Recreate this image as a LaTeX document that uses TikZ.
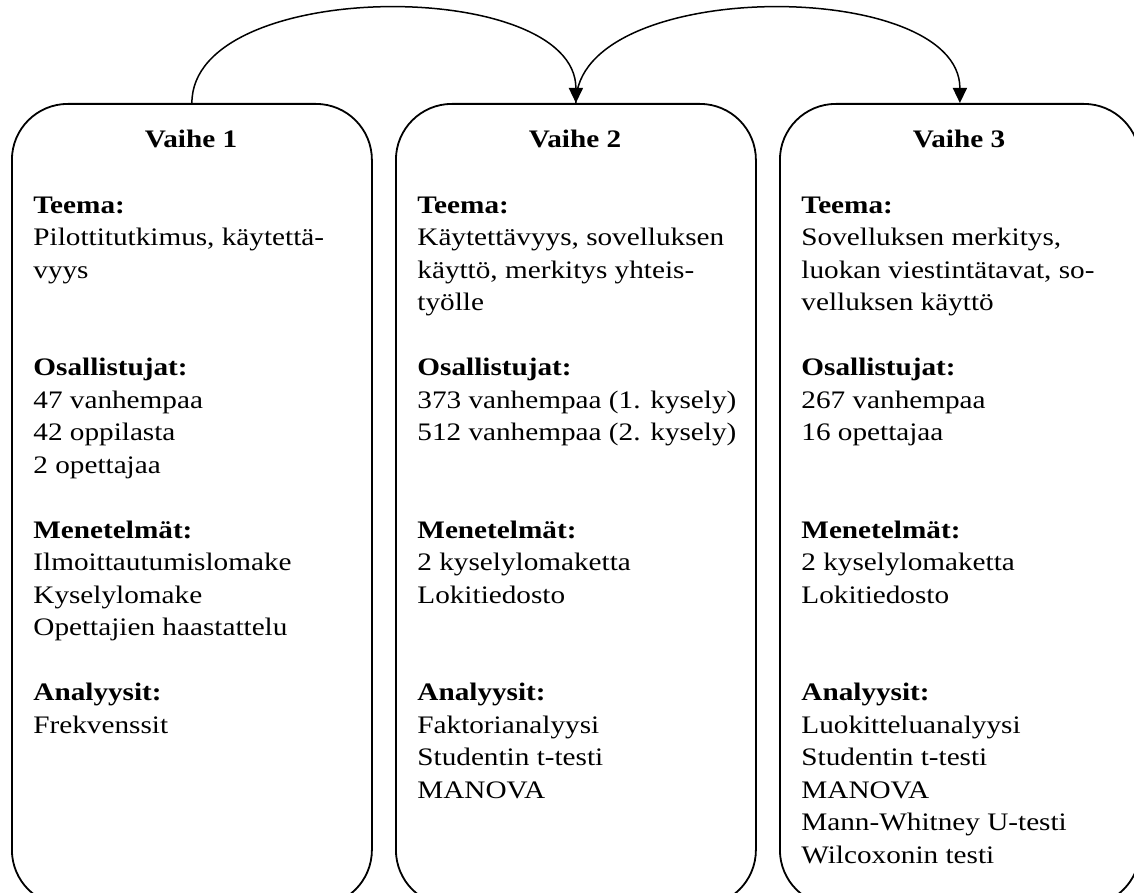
\documentclass[tikz,border=0pt]{standalone}
\usepackage{fontspec}
\setmainfont[FakeStretch=1.16]{Liberation Serif}
\usetikzlibrary{arrows.meta}
\tikzset{
  phase/.style={draw, line width=0.9pt, rounded corners=28pt, minimum width=180pt,
    minimum height=401pt, inner sep=0pt, anchor=north west},
  ttl/.style={anchor=base, inner sep=0pt, font=\bfseries\fontsize{12.6}{16.25}\selectfont},
  body/.style={anchor=north west, inner sep=0pt, align=left,
    font=\fontsize{12.6}{16.25}\selectfont},
  link/.style={line width=0.75pt, -{Triangle[length=7.5pt,width=7pt]}},
}
\newcommand{\fs}{\rule{0pt}{9.5pt}}
\begin{document}
\begin{tikzpicture}[x=0.5pt,y=-0.5pt]
\useasboundingbox (0,0) rectangle (1134,893);
\clip (0,0) rectangle (1134,893);

\node[phase] (b1) at (11,103) {};
\node[phase] (b2) at (395,103) {};
\node[phase] (b3) at (779,103) {};

\node[ttl] (t1) at (191,148) {Vaihe 1};
\node[ttl] (t2) at (575,148) {Vaihe 2};
\node[ttl] (t3) at (959,148) {Vaihe 3};

\node[body] (c1) at (33,194) {\fs\textbf{Teema:}\\
Pilottitutkimus, käytettä-\\
vyys\\[32.5pt]
\textbf{Osallistujat:}\\
47 vanhempaa\\
42 oppilasta\\
2 opettajaa\\[16.25pt]
\textbf{Menetelmät:}\\
Ilmoittautumislomake\\
Kyselylomake\\
Opettajien haastattelu\\[16.25pt]
\textbf{Analyysit:}\\
Frekvenssit};

\node[body] (c2) at (417,194) {\fs\textbf{Teema:}\\
Käytettävyys, sovelluksen\\
käyttö, merkitys yhteis-\\
työlle\\[16.25pt]
\textbf{Osallistujat:}\\
373 vanhempaa (1. kysely)\\
512 vanhempaa (2. kysely)\\[32.5pt]
\textbf{Menetelmät:}\\
2 kyselylomaketta\\
Lokitiedosto\\[32.5pt]
\textbf{Analyysit:}\\
Faktorianalyysi\\
Studentin t-testi\\
MANOVA};

\node[body] (c3) at (801,194) {\fs\textbf{Teema:}\\
Sovelluksen merkitys,\\
luokan viestintätavat, so-\\
velluksen käyttö\\[16.25pt]
\textbf{Osallistujat:}\\
267 vanhempaa\\
16 opettajaa\\[32.5pt]
\textbf{Menetelmät:}\\
2 kyselylomaketta\\
Lokitiedosto\\[32.5pt]
\textbf{Analyysit:}\\
Luokitteluanalyysi\\
Studentin t-testi\\
MANOVA\\
Mann-Whitney U-testi\\
Wilcoxonin testi};

\draw[link] (b1.north) .. controls +(0,-126) and +(0,-126) .. (b2.north);
\draw[link] (b2.north) .. controls +(0,-126) and +(0,-126) .. (b3.north);
\end{tikzpicture}
\end{document}
